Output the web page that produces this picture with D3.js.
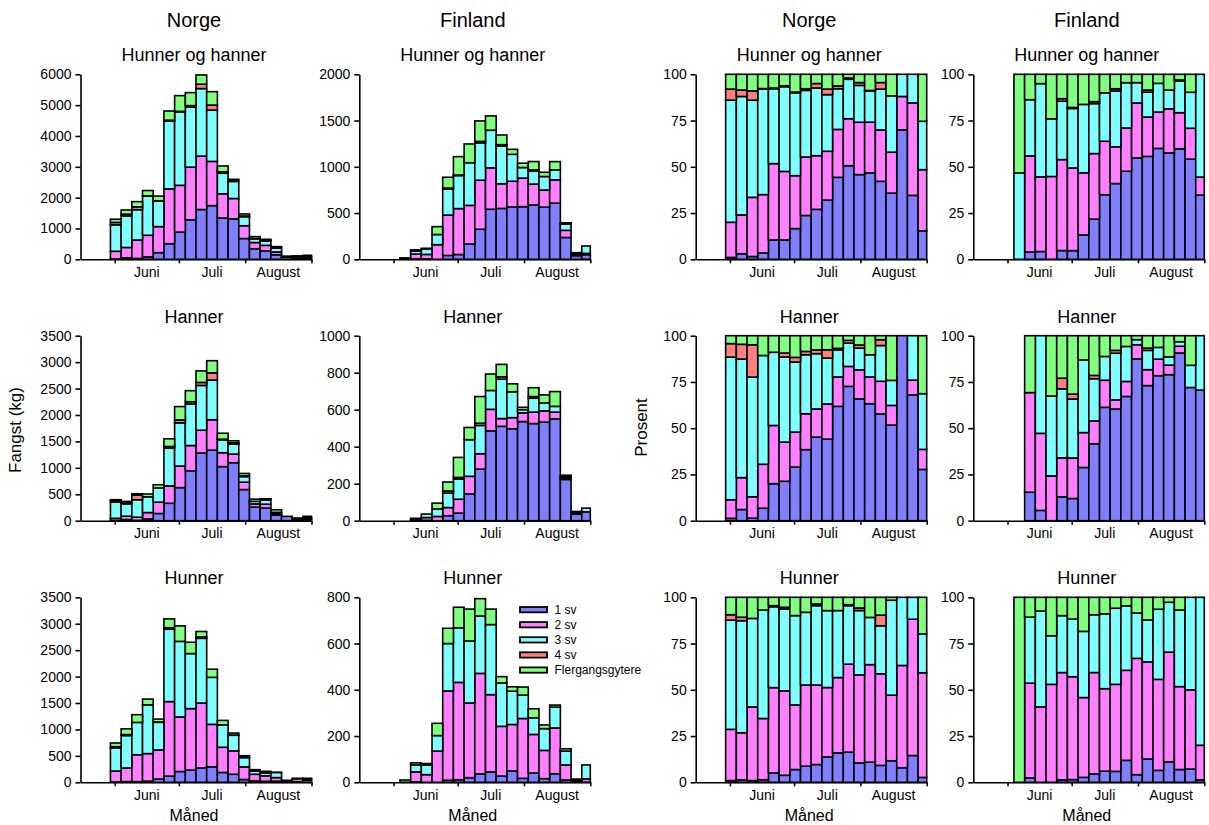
<!DOCTYPE html>
<html>
<head>
<meta charset="utf-8">
<script src="https://cdn.jsdelivr.net/npm/d3@7"></script>
<style>
  body { margin: 0; background: #fff; }
  text { font-family: "Liberation Sans", Arial, sans-serif; fill: #000; }
</style>
</head>
<body>
<svg id="chart" width="1209" height="825"></svg>
<script>
// Five-day catch periods (start dates); the last period ends 1 September.
const periods = ["30.05","04.06","09.06","14.06","19.06","24.06","29.06","04.07","09.07","14.07",
                 "19.07","24.07","29.07","03.08","08.08","13.08","18.08","23.08","28.08"];
const seasonStart = "16.05";
const seasonEnd = "01.09";
const monthBounds = ["01.06","01.07","01.08","01.09"];
const monthNames = ["Juni","Juli","August"];
const ageGroups = ["1 sv","2 sv","3 sv","4 sv","Flergangsgytere"];
const groupColors = ["#8080ff","#ff80ff","#80ffff","#ff8080","#80ff80"];

// Catch (kg) per period and sea-age group.
// Norge, hunner og hanner
const norgeAlle_sv1 = [13,48,28,78,215,505,881,1281,1614,1740,1341,1313,673,343,273,147,70,38,20];
const norgeAlle_sv2 = [247,336,598,702,845,1780,1518,1708,1734,1435,784,659,416,201,180,91,18,55,43];
const norgeAlle_sv3 = [858,1024,982,1271,830,2203,2378,1946,2188,1664,666,553,293,124,143,125,12,17,34];
const norgeAlle_sv4 = [78,56,94,7,8,24,21,49,143,163,45,18,22,2,23,0,0,0,0];
const norgeAlle_fl  = [104,136,168,172,152,298,510,421,299,435,191,52,66,64,29,48,0,0,33];

// Finland, hunner og hanner
const finlandAlle_sv1 = [0,0,4,5,0,42,52,165,325,541,550,566,569,588,564,607,236,39,50];
const finlandAlle_sv2 = [0,0,53,48,158,436,496,418,530,448,267,278,309,225,185,252,77,12,14];
const finlandAlle_sv3 = [0,7,31,60,110,280,357,461,404,406,406,291,114,142,146,107,68,14,80];
const finlandAlle_sv4 = [0,0,0,0,0,12,6,0,16,0,16,0,0,12,0,0,2,0,0];
const finlandAlle_fl  = [0,8,14,6,85,117,199,203,221,155,105,54,47,90,46,90,12,7,0];

// Norge, hanner
const norgeHanner_sv1 = [5,22,7,34,136,330,626,945,1281,1335,1023,1097,589,258,239,107,82,34,23];
const norgeHanner_sv2 = [40,63,59,120,214,328,408,477,431,575,263,163,140,59,73,22,0,4,9];
const norgeHanner_sv3 = [306,234,330,297,269,713,818,785,847,751,243,190,105,49,80,28,0,12,25];
const norgeHanner_sv4 = [29,29,89,0,0,33,54,44,57,136,13,23,15,0,13,0,0,0,0];
const norgeHanner_fl  = [17,17,25,54,61,145,253,209,218,230,113,38,45,42,9,50,0,0,26];

// Finland, hanner
const finlandHanner_sv1 = [0,0,2,2,0,27,41,145,279,486,510,497,536,525,533,551,223,36,48];
const finlandHanner_sv2 = [0,0,7,15,23,44,75,95,83,116,42,60,47,62,61,36,9,0,0];
const finlandHanner_sv3 = [0,0,0,19,41,78,109,198,153,102,213,140,17,75,43,31,6,6,20];
const finlandHanner_sv4 = [0,0,0,0,0,12,9,0,12,0,13,0,0,9,0,0,0,0,0];
const finlandHanner_fl  = [0,0,4,0,31,48,108,66,144,89,67,43,13,48,43,80,8,8,0];

// Norge, hunner
const norgeHunner_sv1 = [7,13,12,22,61,117,204,231,274,293,186,152,53,26,19,22,3,11,2];
const norgeHunner_sv2 = [206,258,509,521,551,1410,1033,1163,1226,803,477,443,239,126,103,67,21,56,43];
const norgeHunner_sv3 = [439,613,612,922,523,1369,1429,1041,1224,890,424,295,175,61,54,97,14,9,16];
const norgeHunner_sv4 = [22,19,0,0,7,28,0,0,26,0,0,5,7,0,12,0,0,0,0];
const norgeHunner_fl  = [70,109,146,109,54,167,293,215,103,154,84,37,29,26,20,3,0,0,15];

// Finland, hunner
const finlandHunner_sv1 = [0,0,2,0,0,9,11,20,36,45,27,49,17,40,16,37,10,1,1];
const finlandHunner_sv2 = [0,0,43,33,135,386,421,323,435,334,215,201,259,167,122,198,65,6,14];
const finlandHunner_sv3 = [0,0,30,42,67,205,236,268,248,303,188,144,101,72,94,90,60,7,60];
const finlandHunner_sv4 = [0,0,0,0,0,0,0,0,0,0,0,0,0,0,0,0,0,0,0];
const finlandHunner_fl  = [0,10,9,6,53,66,89,138,75,67,27,19,35,39,16,9,10,0,0];

// Axis tick values for the catch panels
const ticksNorgeAlle   = [0,1000,2000,3000,4000,5000,6000];
const ticksFinlandAlle = [0,500,1000,1500,2000];
const ticksNorgeSex    = [0,500,1000,1500,2000,2500,3000,3500];
const ticksFinHanner   = [0,200,400,600,800,1000];
const ticksFinHunner   = [0,200,400,600,800];
const ticksPercent     = [0,25,50,75,100];

const countryTitles = ["Norge","Finland","Norge","Finland"];
const rowTitles = ["Hunner og hanner","Hanner","Hunner"];

// ---- layout ----
const svg = d3.select("#chart");
const colLeft = [80.5, 359.3, 695.7, 973.3];
const plotW = 231;
const rowTop = [74.3, 335.7, 597.3];
const plotH = 185;

const parse = d3.timeParse("%d.%m");
const x = d3.scaleTime().domain([parse(seasonStart), parse(seasonEnd)]).range([0, plotW]);

function buildRows(series) {
  return periods.map((p, i) => {
    const row = { start: parse(p), end: parse(periods[i + 1] || seasonEnd) };
    ageGroups.forEach((k, j) => row[k] = series[j][i]);
    row.total = d3.sum(ageGroups, k => row[k]);
    return row;
  }).filter(r => r.total > 0);
}

function drawPanel(col, row, series, ticks, percent) {
  const g = svg.append("g").attr("transform", `translate(${colLeft[col]},${rowTop[row]})`);
  let rows = buildRows(series);
  if (percent) {
    rows = rows.map(r => {
      const o = { start: r.start, end: r.end };
      ageGroups.forEach(k => o[k] = r[k] / r.total * 100);
      return o;
    });
  }
  const yMax = ticks[ticks.length - 1];
  const y = d3.scaleLinear().domain([0, yMax]).range([plotH, 0]);
  const stacked = d3.stack().keys(ageGroups)(rows);

  stacked.forEach((layer, j) => {
    g.append("g")
      .selectAll("rect")
      .data(layer.filter(d => d[1] - d[0] > 0))
      .join("rect")
      .attr("x", d => x(d.data.start))
      .attr("width", d => x(d.data.end) - x(d.data.start))
      .attr("y", d => y(d[1]))
      .attr("height", d => y(d[0]) - y(d[1]))
      .attr("fill", groupColors[j])
      .attr("stroke", "#000")
      .attr("stroke-width", 1.6);
  });

  // y axis
  const ya = g.append("g")
    .call(d3.axisLeft(y).tickValues(ticks).tickFormat(d3.format("d"))
      .tickSize(5).tickPadding(4).tickSizeOuter(0));
  ya.select(".domain").attr("stroke-width", 1.6);
  ya.selectAll(".tick line").attr("stroke-width", 1.6);
  ya.selectAll(".tick text").attr("font-size", 14);

  // x axis: ticks at month boundaries, month names between them
  const xa = g.append("g").attr("transform", `translate(0,${plotH})`)
    .call(d3.axisBottom(x).tickValues(monthBounds.map(parse)).tickFormat("").tickSize(4).tickSizeOuter(0));
  xa.select(".domain").attr("stroke-width", 1.6);
  xa.selectAll(".tick line").attr("stroke-width", 1.6);
  monthNames.forEach((m, i) => {
    const mid = (x(parse(monthBounds[i])) + x(parse(monthBounds[i + 1]))) / 2;
    g.append("text").attr("x", mid).attr("y", plotH + 17.5)
      .attr("text-anchor", "middle").attr("font-size", 14).text(m);
  });

  // panel subtitle
  g.append("text").attr("x", plotW / 2 - 2).attr("y", -13)
    .attr("text-anchor", "middle").attr("font-size", 18).text(rowTitles[row]);
  if (row === 2) {
    g.append("text").attr("x", plotW / 2 - 2).attr("y", plotH + 38.5)
      .attr("text-anchor", "middle").attr("font-size", 16).text("Måned");
  }
  return g;
}

const norgeAlle = [norgeAlle_sv1, norgeAlle_sv2, norgeAlle_sv3, norgeAlle_sv4, norgeAlle_fl];
const finlandAlle = [finlandAlle_sv1, finlandAlle_sv2, finlandAlle_sv3, finlandAlle_sv4, finlandAlle_fl];
const norgeHanner = [norgeHanner_sv1, norgeHanner_sv2, norgeHanner_sv3, norgeHanner_sv4, norgeHanner_fl];
const finlandHanner = [finlandHanner_sv1, finlandHanner_sv2, finlandHanner_sv3, finlandHanner_sv4, finlandHanner_fl];
const norgeHunner = [norgeHunner_sv1, norgeHunner_sv2, norgeHunner_sv3, norgeHunner_sv4, norgeHunner_fl];
const finlandHunner = [finlandHunner_sv1, finlandHunner_sv2, finlandHunner_sv3, finlandHunner_sv4, finlandHunner_fl];

drawPanel(0, 0, norgeAlle, ticksNorgeAlle, false);
drawPanel(1, 0, finlandAlle, ticksFinlandAlle, false);
drawPanel(2, 0, norgeAlle, ticksPercent, true);
drawPanel(3, 0, finlandAlle, ticksPercent, true);
drawPanel(0, 1, norgeHanner, ticksNorgeSex, false);
drawPanel(1, 1, finlandHanner, ticksFinHanner, false);
drawPanel(2, 1, norgeHanner, ticksPercent, true);
drawPanel(3, 1, finlandHanner, ticksPercent, true);
drawPanel(0, 2, norgeHunner, ticksNorgeSex, false);
const legendPanel = drawPanel(1, 2, finlandHunner, ticksFinHunner, false);
drawPanel(2, 2, norgeHunner, ticksPercent, true);
drawPanel(3, 2, finlandHunner, ticksPercent, true);

// country headings
countryTitles.forEach((t, i) => {
  svg.append("text").attr("x", colLeft[i] + plotW / 2 - 2).attr("y", 27)
    .attr("text-anchor", "middle").attr("font-size", 20).text(t);
});

// y-axis titles
svg.append("text").attr("transform", "translate(21,430) rotate(-90)")
  .attr("text-anchor", "middle").attr("font-size", 17).text("Fangst (kg)");
svg.append("text").attr("transform", "translate(647,427.5) rotate(-90)")
  .attr("text-anchor", "middle").attr("font-size", 17).text("Prosent");

// legend
const legend = legendPanel.append("g").attr("transform", `translate(${520 - colLeft[1]},${607 - rowTop[2]})`);
ageGroups.forEach((k, i) => {
  const row = legend.append("g").attr("transform", `translate(0,${i * 15.1})`);
  row.append("rect").attr("width", 27).attr("height", 5.3)
    .attr("fill", groupColors[i]).attr("stroke", "#000").attr("stroke-width", 1.8);
  row.append("text").attr("x", 34.5).attr("y", 7).attr("font-size", 12).text(k);
});
</script>
</body>
</html>
